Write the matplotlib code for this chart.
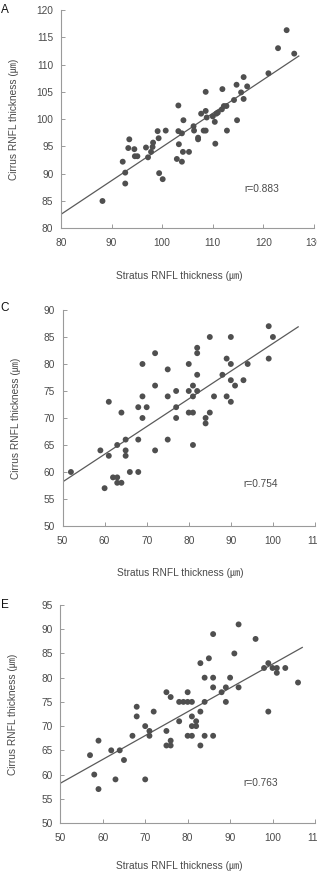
# Stratus vs Cirrus RNFL thickness: three scatter panels (A, C, E) with fit line
import numpy as np
import matplotlib
matplotlib.use("Agg")
import matplotlib.pyplot as plt

plt.rcParams["font.family"] = ["Liberation Sans", "Noto Sans CJK JP", "DejaVu Sans"]

# ----------------- dados -----------------
a_stratus = [88.2, 92.2, 92.7, 92.7, 93.5, 93.3, 94.5, 94.6, 95.1, 96.8,
             97.2, 97.8, 98.1, 98.2, 99.1, 99.3, 99.4, 100.1, 100.7, 103.2,
             103.2, 103.3, 102.9, 103.9, 104.1, 103.9, 104.2, 105.3, 106.2, 106.3,
             107.1, 107.1, 108.2, 108.6, 108.6, 108.6, 107.7, 108.8, 110.0, 110.4,
             110.5, 110.7, 111.0, 111.8, 111.9, 112.2, 112.7, 112.8, 114.2, 114.7,
             114.8, 115.6, 116.1, 116.1, 116.8, 121.0, 122.9, 124.6, 126.1]
a_cirrus = [85.0, 92.2, 90.2, 88.2, 96.3, 94.7, 94.5, 93.2, 93.2, 94.8,
            93.0, 94.0, 94.9, 95.7, 97.8, 96.5, 90.1, 89.0, 97.9, 102.5,
            97.8, 95.4, 92.7, 92.2, 94.0, 97.4, 99.8, 94.0, 98.7, 97.9,
            96.6, 96.3, 97.9, 97.9, 105.0, 101.5, 101.0, 100.3, 100.5, 99.5,
            95.5, 101.0, 101.2, 101.8, 105.5, 102.4, 102.4, 97.9, 103.5, 106.3,
            99.8, 104.9, 107.7, 103.7, 106.0, 108.4, 113.0, 116.3, 112.0]

c_stratus = [52, 59, 60, 61, 61, 62, 63, 63, 63, 64, 64, 65, 65, 65, 66,
             68, 68, 68, 69, 69, 69, 70, 72, 72, 72, 75, 75, 75, 77, 77,
             77, 80, 80, 80, 81, 81, 81, 81, 82, 82, 82, 82, 84, 84, 85,
             85, 86, 88, 89, 89, 90, 90, 90, 90, 91, 93, 94, 99, 99, 100]
c_cirrus = [60, 64, 57, 63, 73, 59, 65, 59, 58, 58, 71, 66, 64, 63, 60,
            66, 60, 72, 74, 80, 70, 72, 82, 76, 64, 79, 74, 66, 75, 72,
            70, 80, 75, 71, 76, 74, 71, 65, 83, 82, 78, 75, 70, 69, 85,
            71, 74, 78, 81, 74, 85, 80, 77, 73, 76, 77, 80, 87, 81, 85]

e_stratus = [57, 58, 59, 59, 62, 63, 64, 65, 67, 68, 68, 70, 70, 71, 71,
             72, 75, 75, 75, 76, 76, 76, 78, 78, 79, 80, 80, 80, 81, 81,
             81, 81, 82, 82, 83, 83, 83, 84, 84, 84, 85, 86, 86, 86, 86,
             88, 89, 89, 90, 91, 92, 92, 96, 98, 99, 99, 100, 101, 101, 103, 106]
e_cirrus = [64, 60, 57, 67, 65, 59, 65, 63, 68, 72, 74, 70, 59, 69, 68,
            73, 77, 69, 66, 76, 67, 66, 71, 75, 75, 77, 75, 68, 75, 72,
            70, 68, 71, 70, 73, 83, 66, 80, 75, 68, 84, 89, 80, 78, 68,
            77, 78, 75, 80, 85, 78, 91, 88, 82, 73, 83, 82, 82, 81, 82, 79]

# reta de regressão (intercepto, inclinação, x inicial, x final)
a_fit = [33.2, 0.617, 80, 127]
c_fit = [32.5, 0.513, 50, 106]
e_fit = [33.6, 0.492, 50, 107]

r_labels = ["r=0.883", "r=0.754", "r=0.763"]
panel_letters = ["A", "C", "E"]

a_xlim, a_ylim, a_xticks, a_yticks = (80, 130), (80, 120), range(80, 131, 10), range(80, 121, 5)
c_xlim, c_ylim, c_xticks, c_yticks = (50, 110), (50, 90), range(50, 111, 10), range(50, 91, 5)
e_xlim, e_ylim, e_xticks, e_yticks = (50, 110), (50, 95), range(50, 111, 10), range(50, 96, 5)

# ----------------- estilo -----------------
TXT = "#4a4a4a"
SPINE = "#9a9a9a"
DOT = "#4f4f4f"
LINE = "#5a5a5a"

fig = plt.figure(figsize=(3.17, 8.9), dpi=100)

panels = [
    dict(pos=[0.1924, 0.7435, 0.798, 0.2453], x=a_stratus, y=a_cirrus, fit=a_fit,
         xlim=a_xlim, ylim=a_ylim, xt=a_xticks, yt=a_yticks, r_xy=(119.7, 87.2),
         xlab_y=-0.196, letter_y=0.9888),
    dict(pos=[0.1972, 0.4090, 0.7965, 0.2427], x=c_stratus, y=c_cirrus, fit=c_fit,
         xlim=c_xlim, ylim=c_ylim, xt=c_xticks, yt=c_yticks, r_xy=(97.1, 57.7),
         xlab_y=-0.194, letter_y=0.654),
    dict(pos=[0.1902, 0.0753, 0.8035, 0.2449], x=e_stratus, y=e_cirrus, fit=e_fit,
         xlim=e_xlim, ylim=e_ylim, xt=e_xticks, yt=e_yticks, r_xy=(97.3, 58.2),
         xlab_y=-0.174, letter_y=0.320),
]

for i, p in enumerate(panels):
    ax = fig.add_axes(p["pos"])
    ax.scatter(p["x"], p["y"], s=18, color=DOT, edgecolors="none", zorder=3, clip_on=False)

    b0, b1, x0, x1 = p["fit"]
    xs = np.array([x0, x1])
    ax.plot(xs, b0 + b1 * xs, color=LINE, lw=0.9, zorder=2)

    ax.set_xlim(*p["xlim"])
    ax.set_ylim(*p["ylim"])
    ax.set_xticks(list(p["xt"]))
    ax.set_yticks(list(p["yt"]))

    for s in ("top", "right"):
        ax.spines[s].set_visible(False)
    for s in ("left", "bottom"):
        ax.spines[s].set_color(SPINE)
        ax.spines[s].set_linewidth(0.8)

    ax.tick_params(axis="both", direction="in", length=3, width=0.7, color=SPINE,
                   labelsize=7.3, labelcolor=TXT)
    ax.tick_params(axis="x", pad=7)
    ax.tick_params(axis="y", pad=5.5)

    ax.set_xlabel("Stratus RNFL thickness (㎛)", fontsize=7.3, color=TXT)
    ax.set_ylabel("Cirrus RNFL thickness (㎛)", fontsize=7.3, color=TXT)
    ax.xaxis.set_label_coords(0.466, p["xlab_y"])
    ax.yaxis.set_label_coords(-0.165, 0.5)

    ax.text(p["r_xy"][0], p["r_xy"][1], r_labels[i], fontsize=7.3, color=TXT,
            ha="center", va="center")

    fig.text(0.002, p["letter_y"], panel_letters[i], fontsize=8.5, color="#111111",
             ha="left", va="center")

fig.savefig("out.png", dpi=100, facecolor="white")
